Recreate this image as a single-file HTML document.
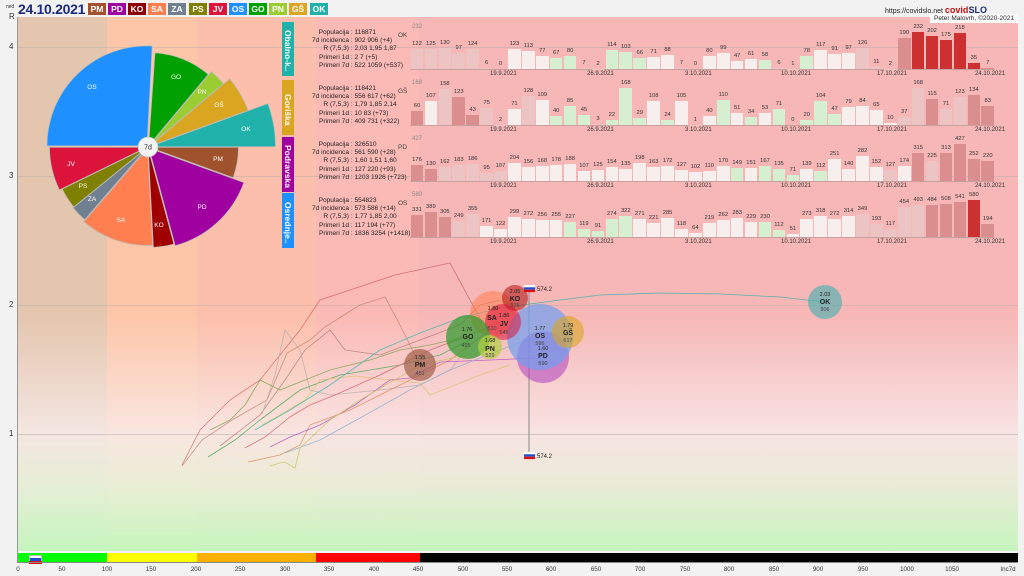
<!DOCTYPE html>
<html><head><meta charset="utf-8"><style>
*{margin:0;padding:0;box-sizing:border-box}
body{width:1024px;height:576px;overflow:hidden;background:#f2f2f2;font-family:"Liberation Sans","DejaVu Sans",sans-serif;position:relative}
.abs{position:absolute}
.bd{position:absolute;top:17px;height:534px}
.badge{position:absolute;top:3px;width:18px;height:12px;color:#fff;font-size:8.5px;line-height:12px;text-align:center;font-weight:bold}
.tab{position:absolute;left:282px;width:12px;color:#fff;font-size:8.5px;font-weight:bold;writing-mode:vertical-rl;text-align:center;line-height:12px;padding-top:4px}
.info{position:absolute;left:296px;font-size:6.6px;line-height:8.2px;color:#222;white-space:pre}
.info span{display:inline-block;width:53px;text-align:right}
.row{position:absolute;left:410px;height:46px;display:flex;align-items:flex-end;border-bottom:1px solid #c9a0a0}
.row b{font-weight:normal;font-size:5.8px;color:#333;width:13.93px;height:100%;display:flex;flex-direction:column;justify-content:flex-end;align-items:center;line-height:7px}
.row b::after{content:"";width:12.6px;margin-top:1px;height:calc(var(--v)*38px/var(--m));background:var(--c,#f5eaea)}
.g{--c:#d6efd0}.w{--c:#f7eeee}.p{--c:#ecc4c4}.r{--c:#db8e8e}.R{--c:#cc3030}
.pl{position:absolute;left:398px;font-size:6.5px;color:#444}
.mx{position:absolute;left:412px;font-size:6px;color:#888}
.dt{position:absolute;font-size:6px;color:#333}
.yl{position:absolute;left:9px;font-size:8px;color:#333}
.xl{position:absolute;top:566px;font-size:6.2px;color:#333;transform:translateX(-50%)}
</style></head><body>
<div class="bd" style="left:18px;width:89px;background:#e4c6ae"></div>
<div class="bd" style="left:107px;width:90px;background:#fdc6a8"></div>
<div class="bd" style="left:197px;width:119px;background:#fcbfab"></div>
<div class="bd" style="left:316px;width:103px;background:#fbbab6"></div>
<div class="bd" style="left:419px;width:599px;background:#f7b7b7"></div>
<div class="bd" style="left:18px;width:1000px;background:linear-gradient(to bottom,rgba(255,255,255,0) 0%,rgba(255,255,255,0) 56%,rgba(248,238,238,.8) 78%,rgba(230,245,220,.85) 88%,rgba(195,248,190,.95) 100%)"></div>
<div class="abs" style="left:18px;top:47px;width:1000px;height:1px;background:rgba(170,170,170,.4)"></div>
<div class="abs" style="left:18px;top:176px;width:1000px;height:1px;background:rgba(170,170,170,.4)"></div>
<div class="abs" style="left:18px;top:305px;width:1000px;height:1px;background:rgba(170,170,170,.4)"></div>
<div class="abs" style="left:18px;top:434px;width:1000px;height:1px;background:rgba(170,170,170,.5)"></div>
<div class="abs" style="left:17px;top:17px;width:1px;height:546px;background:#999"></div>
<div class="yl" style="top:12px">R</div>
<div class="yl" style="top:42px">4</div>
<div class="yl" style="top:171px">3</div>
<div class="yl" style="top:300px">2</div>
<div class="yl" style="top:429px">1</div>
<div class="abs" style="left:6px;top:4px;font-size:5px;color:#333">ned</div>
<div class="abs" style="left:18px;top:1px;font-size:14px;font-weight:bold;color:#1c2a7a;letter-spacing:-.3px">24.10.2021</div>
<div class="badge" style="left:88px;background:#a0522d">PM</div>
<div class="badge" style="left:108px;background:#a000a0">PD</div>
<div class="badge" style="left:128px;background:#8b0000">KO</div>
<div class="badge" style="left:148px;background:#ff7f50">SA</div>
<div class="badge" style="left:168px;background:#708090">ZA</div>
<div class="badge" style="left:189px;background:#808000">PS</div>
<div class="badge" style="left:209px;background:#dc143c">JV</div>
<div class="badge" style="left:229px;background:#1e90ff">OS</div>
<div class="badge" style="left:249px;background:#00a000">GO</div>
<div class="badge" style="left:269px;background:#9acd32">PN</div>
<div class="badge" style="left:289px;background:#daa520">GŠ</div>
<div class="badge" style="left:310px;background:#20b2aa">OK</div>
<div class="abs" style="left:885px;top:5px;font-size:7px;color:#222">https://covidslo.net <b style="color:#d01010;font-size:9px">covid<span style="color:#1c2a7a">SLO</span></b></div>
<div class="abs" style="left:930px;top:14px;width:88px;height:9px;background:#fff;font-size:6.5px;line-height:9px;text-align:center;color:#222">Peter Malovrh, ©2020-2021</div>

<svg class="abs" style="left:0;top:0" width="1024" height="576">
<g fill="none" stroke-width="0.8" opacity=".75">
<polyline stroke="#cd5c5c" points="182,465 200,430 230,400 260,380 300,330 320,300 350,290 395,275 450,263 470,300 480,318"/>
<polyline stroke="#c47a6a" points="182,466 202,440 232,420 267,400 287,353 310,340 325,327 360,305 385,297 400,325 410,345 420,365"/>
<polyline stroke="#b07070" points="220,446 260,415 285,380 305,350 330,330 345,350 380,355 420,340 460,325 480,305 500,300"/>
<polyline stroke="#aaa" points="262,414 275,375 285,330 300,350 310,390 330,395 380,390 420,385 450,370 470,345"/>
<polyline stroke="#6a9a40" points="210,430 230,420 245,405 260,380 280,390 300,382 330,370 370,360 400,350 430,345 460,338"/>
<polyline stroke="#2fa04a" points="208,457 235,440 260,420 300,390 340,375 400,365 440,355 470,340"/>
<polyline stroke="#d8c060" points="262,425 280,415 305,400 320,380 355,376 390,380 420,383 430,395 480,375 510,365"/>
<polyline stroke="#e08050" points="248,462 280,455 300,445 310,425 350,410 400,385 450,360 490,330"/>
<polyline stroke="#d05060" points="245,448 265,437 290,417 310,405 335,395 380,375 430,350 470,335 500,322"/>
<polyline stroke="#b040c0" points="270,447 290,437 320,425 355,405 390,380 410,378 440,362 490,360 540,358"/>
<polyline stroke="#7aa8d0" points="285,453 320,440 360,418 410,390 450,370 500,350 540,335"/>
<polyline stroke="#c0c050" points="270,466 280,463 285,462 295,468 300,448 330,420 360,400 420,365 480,352"/>
<polyline stroke="#20b2aa" points="255,430 290,410 330,385 380,350 420,333 460,318 500,308 560,300 600,295 660,293 720,294 780,297 825,302"/>
</g>
<line x1="529" y1="290" x2="529" y2="455" stroke="#888" stroke-width="1"/>
<g stroke="none">
<circle cx="543" cy="357" r="26" fill="#b040c0" opacity=".55"/>
<circle cx="493" cy="314" r="23" fill="#ff7f50" opacity=".55"/>
<circle cx="540" cy="337" r="33" fill="#6fa0f0" opacity=".7"/>
<circle cx="515" cy="298" r="13" fill="#b01010" opacity=".55"/>
<circle cx="503" cy="322" r="18" fill="#dc143c" opacity=".55"/>
<circle cx="468" cy="337" r="22" fill="#2a9a2a" opacity=".7"/>
<circle cx="490" cy="347" r="12" fill="#b0d040" opacity=".7"/>
<circle cx="568" cy="332" r="16" fill="#daa520" opacity=".6"/>
<circle cx="420" cy="365" r="16" fill="#a0604a" opacity=".7"/>
<circle cx="825" cy="302" r="17" fill="#40b0b0" opacity=".6"/>
</g>
<g font-family="Liberation Sans,sans-serif" text-anchor="middle" fill="#222">
<g font-size="5.5"><text x="515" y="293">2.05</text><text x="493" y="310">1.80</text><text x="504" y="317">1.86</text><text x="467" y="331">1.76</text><text x="490" y="342">1.68</text><text x="540" y="330">1.77</text><text x="543" y="350">1.60</text><text x="568" y="327">1.79</text><text x="420" y="359">1.55</text><text x="825" y="296">2.03</text></g>
<g font-size="7" font-weight="bold"><text x="515" y="301">KO</text><text x="492" y="320">SA</text><text x="504" y="326">JV</text><text x="468" y="339">GO</text><text x="490" y="351">PN</text><text x="540" y="338">OS</text><text x="543" y="358">PD</text><text x="568" y="335">GŠ</text><text x="420" y="367">PM</text><text x="825" y="304">OK</text></g>
<g font-size="5.5" fill="#444"><text x="515" y="307">576</text><text x="492" y="330">530</text><text x="504" y="334">545</text><text x="466" y="347">495</text><text x="490" y="357">529</text><text x="540" y="345">586</text><text x="543" y="365">590</text><text x="568" y="342">617</text><text x="420" y="375">451</text><text x="825" y="311">906</text></g>
</g>
<g><rect x="524" y="285" width="11" height="7" fill="#fff"/><rect x="524" y="287.3" width="11" height="2.4" fill="#1e4fd0"/><rect x="524" y="289.7" width="11" height="2.4" fill="#e01010"/>
<text x="537" y="291" font-size="6" font-family="Liberation Sans,sans-serif" fill="#222">574.2</text>
<rect x="524" y="452" width="11" height="7" fill="#fff"/><rect x="524" y="454.3" width="11" height="2.4" fill="#1e4fd0"/><rect x="524" y="456.7" width="11" height="2.4" fill="#e01010"/>
<text x="537" y="458" font-size="6" font-family="Liberation Sans,sans-serif" fill="#222">574.2</text></g>
<g id="pie" stroke="#bbb" stroke-width="0.7"></g>
<circle cx="148" cy="147" r="10" fill="#f4f4f4" stroke="#bbb" stroke-width=".7"/>
<text x="148" y="149.5" font-size="7" text-anchor="middle" font-family="Liberation Sans,sans-serif" fill="#222">7d</text>
<g font-family="Liberation Sans,sans-serif" font-size="6.5" fill="#fff" text-anchor="middle">
<text x="92" y="89">OS</text><text x="176" y="79">GO</text><text x="202" y="94">PN</text><text x="219" y="107">GŠ</text><text x="246" y="131">OK</text><text x="218" y="161">PM</text><text x="202" y="209">PD</text><text x="159" y="227">KO</text><text x="121" y="222">SA</text><text x="92" y="201">ZA</text><text x="83" y="188">PS</text><text x="71" y="166">JV</text>
</g>
</svg>
<script>
(function(){var s=[["#1e90ff",-90,3,100],["#00a000",4,40,93],["#9acd32",40,50,97],["#daa520",50,70,105],["#20b2aa",70,90,126],["#a0522d",90,110,89],["#a000a0",110,165,101],["#a00000",165,177,99],["#ff7f50",177,221,97],["#708090",221,231,95],["#808000",231,244,94],["#dc143c",244,270,97]];
var g=document.getElementById('pie'),cx=148,cy=147,h='';
s.forEach(function(a){var m=(a[1]+a[2])/2*Math.PI/180,ox=cx+1.5*Math.sin(m),oy=cy-1.5*Math.cos(m);function p(d,r){d=d*Math.PI/180;return (ox+r*Math.sin(d)).toFixed(1)+','+(oy-r*Math.cos(d)).toFixed(1)}
var lg=(a[2]-a[1])>180?1:0;h+='<path fill="'+a[0]+'" d="M'+ox.toFixed(1)+','+oy.toFixed(1)+' L'+p(a[1],a[3])+' A'+a[3]+','+a[3]+' 0 '+lg+' 1 '+p(a[2],a[3])+' Z"/>';});
g.innerHTML=h;})();
</script>

<div class="tab" style="top:22px;height:54px;background:#20b2aa">Obalno-k..</div>
<div class="tab" style="top:80px;height:55px;background:#daa520">Goriška</div>
<div class="tab" style="top:137px;height:55px;background:#a000a0">Podravska</div>
<div class="tab" style="top:193px;height:55px;background:#1e90ff">Osrednje..</div>

<div class="info" style="top:29px"><span>Populacija</span> : 116871
<span>7d incidenca</span> : 902 906 (+4)
<span>R (7,5,3)</span> : 2,03 1,95 1,87
<span>Primeri 1d</span> : 2 7 (+5)
<span>Primeri 7d</span> : 522 1059 (+537)</div>
<div class="info" style="top:85px"><span>Populacija</span> : 118421
<span>7d incidenca</span> : 556 617 (+62)
<span>R (7,5,3)</span> : 1,79 1,85 2,14
<span>Primeri 1d</span> : 10 83 (+73)
<span>Primeri 7d</span> : 409 731 (+322)</div>
<div class="info" style="top:141px"><span>Populacija</span> : 326510
<span>7d incidenca</span> : 561 590 (+28)
<span>R (7,5,3)</span> : 1,60 1,51 1,60
<span>Primeri 1d</span> : 127 220 (+93)
<span>Primeri 7d</span> : 1203 1926 (+723)</div>
<div class="info" style="top:197px"><span>Populacija</span> : 554823
<span>7d incidenca</span> : 573 586 (+14)
<span>R (7,5,3)</span> : 1,77 1,85 2,00
<span>Primeri 1d</span> : 117 194 (+77)
<span>Primeri 7d</span> : 1836 3254 (+1418)</div>

<div class="pl" style="top:32px">OK</div><div class="mx" style="top:24px">232</div>
<div class="pl" style="top:88px">GŠ</div><div class="mx" style="top:80px">168</div>
<div class="pl" style="top:144px">PD</div><div class="mx" style="top:136px">427</div>
<div class="pl" style="top:200px">OS</div><div class="mx" style="top:192px">580</div>

<div class="row" style="top:24px;--m:232">
<b class="p" style="--v:122">122</b><b class="p" style="--v:125">125</b><b class="p" style="--v:130">130</b><b class="p" style="--v:97">97</b><b class="p" style="--v:124">124</b><b class="p" style="--v:6">6</b><b class="p" style="--v:0">0</b>
<b class="w" style="--v:123">123</b><b class="w" style="--v:113">113</b><b class="w" style="--v:77">77</b><b class="g" style="--v:67">67</b><b class="g" style="--v:80">80</b><b class="p" style="--v:7">7</b><b class="p" style="--v:2">2</b>
<b class="g" style="--v:114">114</b><b class="g" style="--v:103">103</b><b class="g" style="--v:66">66</b><b class="w" style="--v:71">71</b><b class="w" style="--v:88">88</b><b class="p" style="--v:7">7</b><b class="p" style="--v:0">0</b>
<b class="w" style="--v:80">80</b><b class="w" style="--v:99">99</b><b class="w" style="--v:47">47</b><b class="w" style="--v:61">61</b><b class="g" style="--v:58">58</b><b class="p" style="--v:6">6</b><b class="p" style="--v:1">1</b>
<b class="g" style="--v:78">78</b><b class="w" style="--v:117">117</b><b class="w" style="--v:91">91</b><b class="w" style="--v:97">97</b><b class="p" style="--v:126">126</b><b class="p" style="--v:11">11</b><b class="p" style="--v:2">2</b>
<b class="r" style="--v:190">190</b><b class="R" style="--v:232">232</b><b class="R" style="--v:202">202</b><b class="R" style="--v:175">175</b><b class="R" style="--v:218">218</b><b class="R" style="--v:35">35</b><b class="r" style="--v:7">7</b>
</div>
<div class="row" style="top:80px;--m:168">
<b class="r" style="--v:60">60</b><b class="w" style="--v:107">107</b><b class="p" style="--v:158">158</b><b class="r" style="--v:123">123</b><b class="r" style="--v:43">43</b><b class="p" style="--v:75">75</b><b class="p" style="--v:2">2</b>
<b class="w" style="--v:71">71</b><b class="p" style="--v:128">128</b><b class="w" style="--v:109">109</b><b class="g" style="--v:40">40</b><b class="g" style="--v:85">85</b><b class="g" style="--v:45">45</b><b class="p" style="--v:3">3</b>
<b class="g" style="--v:22">22</b><b class="g" style="--v:168">168</b><b class="g" style="--v:29">29</b><b class="w" style="--v:108">108</b><b class="g" style="--v:24">24</b><b class="w" style="--v:105">105</b><b class="p" style="--v:1">1</b>
<b class="w" style="--v:40">40</b><b class="g" style="--v:110">110</b><b class="w" style="--v:51">51</b><b class="g" style="--v:34">34</b><b class="w" style="--v:53">53</b><b class="g" style="--v:71">71</b><b class="p" style="--v:0">0</b>
<b class="g" style="--v:20">20</b><b class="g" style="--v:104">104</b><b class="g" style="--v:47">47</b><b class="w" style="--v:79">79</b><b class="w" style="--v:84">84</b><b class="w" style="--v:65">65</b><b class="w" style="--v:10">10</b>
<b class="p" style="--v:37">37</b><b class="p" style="--v:168">168</b><b class="r" style="--v:115">115</b><b class="p" style="--v:71">71</b><b class="p" style="--v:123">123</b><b class="r" style="--v:134">134</b><b class="r" style="--v:83">83</b>
</div>
<div class="row" style="top:136px;--m:427">
<b class="r" style="--v:176">176</b><b class="r" style="--v:130">130</b><b class="p" style="--v:162">162</b><b class="p" style="--v:183">183</b><b class="p" style="--v:186">186</b><b class="p" style="--v:95">95</b><b class="p" style="--v:107">107</b>
<b class="w" style="--v:204">204</b><b class="w" style="--v:156">156</b><b class="w" style="--v:168">168</b><b class="w" style="--v:178">178</b><b class="w" style="--v:188">188</b><b class="w" style="--v:107">107</b><b class="w" style="--v:125">125</b>
<b class="w" style="--v:154">154</b><b class="w" style="--v:135">135</b><b class="w" style="--v:198">198</b><b class="w" style="--v:163">163</b><b class="w" style="--v:172">172</b><b class="w" style="--v:127">127</b><b class="w" style="--v:102">102</b>
<b class="w" style="--v:110">110</b><b class="w" style="--v:170">170</b><b class="g" style="--v:149">149</b><b class="w" style="--v:151">151</b><b class="g" style="--v:167">167</b><b class="g" style="--v:135">135</b><b class="g" style="--v:71">71</b>
<b class="w" style="--v:139">139</b><b class="g" style="--v:112">112</b><b class="w" style="--v:251">251</b><b class="w" style="--v:140">140</b><b class="w" style="--v:282">282</b><b class="w" style="--v:152">152</b><b class="p" style="--v:127">127</b>
<b class="w" style="--v:174">174</b><b class="r" style="--v:315">315</b><b class="p" style="--v:225">225</b><b class="r" style="--v:313">313</b><b class="r" style="--v:427">427</b><b class="r" style="--v:252">252</b><b class="r" style="--v:220">220</b>
</div>
<div class="row" style="top:192px;--m:580">
<b class="r" style="--v:331">331</b><b class="r" style="--v:389">389</b><b class="r" style="--v:305">305</b><b class="p" style="--v:249">249</b><b class="p" style="--v:355">355</b><b class="w" style="--v:171">171</b><b class="w" style="--v:122">122</b>
<b class="w" style="--v:299">299</b><b class="w" style="--v:272">272</b><b class="w" style="--v:256">256</b><b class="w" style="--v:255">255</b><b class="g" style="--v:227">227</b><b class="g" style="--v:119">119</b><b class="g" style="--v:91">91</b>
<b class="g" style="--v:274">274</b><b class="g" style="--v:322">322</b><b class="w" style="--v:271">271</b><b class="w" style="--v:221">221</b><b class="w" style="--v:285">285</b><b class="w" style="--v:118">118</b><b class="w" style="--v:64">64</b>
<b class="w" style="--v:219">219</b><b class="w" style="--v:262">262</b><b class="w" style="--v:283">283</b><b class="w" style="--v:229">229</b><b class="g" style="--v:230">230</b><b class="g" style="--v:112">112</b><b class="w" style="--v:51">51</b>
<b class="w" style="--v:273">273</b><b class="w" style="--v:318">318</b><b class="w" style="--v:272">272</b><b class="w" style="--v:314">314</b><b class="p" style="--v:349">349</b><b class="p" style="--v:193">193</b><b class="p" style="--v:117">117</b>
<b class="p" style="--v:454">454</b><b class="p" style="--v:493">493</b><b class="r" style="--v:484">484</b><b class="r" style="--v:508">508</b><b class="r" style="--v:541">541</b><b class="R" style="--v:580">580</b><b class="r" style="--v:194">194</b>
</div>
<div class="dt" style="left:490px;top:71px">19.9.2021</div><div class="dt" style="left:587px;top:71px">26.9.2021</div><div class="dt" style="left:685px;top:71px">3.10.2021</div><div class="dt" style="left:781px;top:71px">10.10.2021</div><div class="dt" style="left:877px;top:71px">17.10.2021</div><div class="dt" style="left:975px;top:71px">24.10.2021</div>
<div class="dt" style="left:490px;top:127px">19.9.2021</div><div class="dt" style="left:587px;top:127px">26.9.2021</div><div class="dt" style="left:685px;top:127px">3.10.2021</div><div class="dt" style="left:781px;top:127px">10.10.2021</div><div class="dt" style="left:877px;top:127px">17.10.2021</div><div class="dt" style="left:975px;top:127px">24.10.2021</div>
<div class="dt" style="left:490px;top:183px">19.9.2021</div><div class="dt" style="left:587px;top:183px">26.9.2021</div><div class="dt" style="left:685px;top:183px">3.10.2021</div><div class="dt" style="left:781px;top:183px">10.10.2021</div><div class="dt" style="left:877px;top:183px">17.10.2021</div><div class="dt" style="left:975px;top:183px">24.10.2021</div>
<div class="dt" style="left:490px;top:239px">19.9.2021</div><div class="dt" style="left:587px;top:239px">26.9.2021</div><div class="dt" style="left:685px;top:239px">3.10.2021</div><div class="dt" style="left:781px;top:239px">10.10.2021</div><div class="dt" style="left:877px;top:239px">17.10.2021</div><div class="dt" style="left:975px;top:239px">24.10.2021</div>

<div class="abs" style="left:18px;top:553px;width:89px;height:9px;background:#00ff00"></div>
<div class="abs" style="left:107px;top:553px;width:90px;height:9px;background:#ffff00"></div>
<div class="abs" style="left:197px;top:553px;width:119px;height:9px;background:#ffb000"></div>
<div class="abs" style="left:316px;top:553px;width:104px;height:9px;background:#ff0000"></div>
<div class="abs" style="left:420px;top:553px;width:598px;height:9px;background:#000"></div>
<div class="abs" style="left:29px;top:555px;width:13px;height:9px;background:#fff;border:1px solid #bbb"></div>
<div class="abs" style="left:30px;top:558px;width:11px;height:3px;background:#1e4fd0"></div>
<div class="abs" style="left:29px;top:561px;width:13px;height:3px;background:#e01010"></div>
<div class="abs" style="left:18px;top:562px;width:1000px;height:1px;background:#888"></div>
<div class="xl" style="left:18px">0</div><div class="xl" style="left:62px">50</div><div class="xl" style="left:107px">100</div><div class="xl" style="left:151px">150</div><div class="xl" style="left:196px">200</div><div class="xl" style="left:240px">250</div><div class="xl" style="left:285px">300</div><div class="xl" style="left:329px">350</div><div class="xl" style="left:374px">400</div><div class="xl" style="left:418px">450</div><div class="xl" style="left:463px">500</div><div class="xl" style="left:507px">550</div><div class="xl" style="left:551px">600</div><div class="xl" style="left:596px">650</div><div class="xl" style="left:640px">700</div><div class="xl" style="left:685px">750</div><div class="xl" style="left:729px">800</div><div class="xl" style="left:774px">850</div><div class="xl" style="left:818px">900</div><div class="xl" style="left:863px">950</div><div class="xl" style="left:907px">1000</div><div class="xl" style="left:952px">1050</div><div class="xl" style="left:1008px">Inc7d</div>
</body></html>
